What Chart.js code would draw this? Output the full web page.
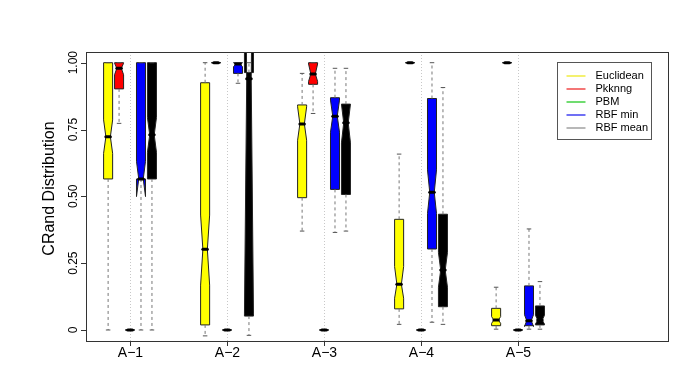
<!DOCTYPE html>
<html>
<head>
<meta charset="utf-8">
<script src="https://cdn.jsdelivr.net/npm/chart.js@4.4.1/dist/chart.umd.min.js"></script>
<style>
  html, body { margin: 0; padding: 0; background: #fff; }
</style>
</head>
<body>
<canvas id="chart" width="685" height="385"></canvas>
<script>
// groups on the x axis
const groups = ["A−1", "A−2", "A−3", "A−4", "A−5"]
const seriesNames = ["Euclidean", "Pkknng", "PBM", "RBF min", "RBF mean"]
const boxColors = ["#ffff00", "#ff0000", "#00cc00", "#0000ff", "#000000"]
const legendColors = ["#f0ec40", "#f04848", "#40d040", "#4040f0", "#a0a0a0"]

// box stats per group: [lower whisker, Q1, median, Q3, upper whisker]
const euclidean = [
  [0.000, 0.565, 0.723, 1.000, 1.000],
  [-0.022, 0.019, 0.302, 0.925, 1.000],
  [0.370, 0.495, 0.771, 0.842, 0.960],
  [0.021, 0.079, 0.171, 0.414, 0.658],
  [0.003, 0.016, 0.037, 0.081, 0.160]
]
const pkknng = [
  [0.773, 0.902, 0.979, 1.000, 1.000],
  [1.000, 1.000, 1.000, 1.000, 1.000],
  [0.810, 0.919, 0.958, 1.000, 1.000],
  [1.000, 1.000, 1.000, 1.000, 1.000],
  [1.000, 1.000, 1.000, 1.000, 1.000]
]
const pbm = [
  [0, 0, 0, 0, 0],
  [0, 0, 0, 0, 0],
  [0, 0, 0, 0, 0],
  [0, 0, 0, 0, 0],
  [0, 0, 0, 0, 0]
]
const rbfMin = [
  [0.000, 0.565, 0.565, 1.000, 1.000],
  [0.923, 0.960, 0.995, 1.000, 1.000],
  [0.365, 0.526, 0.800, 0.869, 0.979],
  [0.029, 0.303, 0.515, 0.866, 1.000],
  [0.003, 0.016, 0.035, 0.165, 0.378]
]
const rbfMean = [
  [0.000, 0.565, 0.730, 1.000, 1.000],
  [-0.020, 0.052, 0.940, 0.963, 1.000],
  [0.370, 0.507, 0.775, 0.845, 0.979],
  [0.021, 0.087, 0.224, 0.433, 0.907],
  [0.003, 0.019, 0.037, 0.090, 0.181]
]

// notch limits per group: [low, high]
const euclideanNotch = [[0.661, 0.786], [0.168, 0.430], [0.710, 0.835], [0.119, 0.237], [0.025, 0.050]]
const pkknngNotch = [[0.955, 0.998], [1, 1], [0.930, 0.995], [1, 1], [1, 1]]
const pbmNotch = [[0, 0], [0, 0], [0, 0], [0, 0], [0, 0]]
const rbfMinNotch = [[0.499, 0.631], [0.985, 1.000], [0.740, 0.860], [0.436, 0.599], [0.013, 0.057]]
const rbfMeanNotch = [[0.665, 0.795], [0.060, 1.800], [0.700, 0.845], [0.160, 0.290], [0.022, 0.055]]

const yTicks = [0, 0.25, 0.5, 0.75, 1]
const yTickLabels = ["0", "0.25", "0.50", "0.75", "1.00"]

const allStats = [euclidean, pkknng, pbm, rbfMin, rbfMean]
const allNotches = [euclideanNotch, pkknngNotch, pbmNotch, rbfMinNotch, rbfMeanNotch]
const offsets = [-0.226, -0.113, 0, 0.113, 0.226]
const boxWidth = 0.093
const FONT = "'Liberation Sans', Arial, Helvetica, sans-serif"

const boxplotPlugin = {
  id: "boxplot",
  afterDraw(chart) {
    const ctx = chart.ctx
    const area = chart.chartArea
    const xs = chart.scales.x
    const ys = chart.scales.y
    const Y = v => ys.getPixelForValue(v)

    ctx.save()

    // dotted vertical guides at group centres
    ctx.strokeStyle = "#c8c8c8"
    ctx.lineWidth = 1
    ctx.setLineDash([1, 2])
    groups.forEach((g, i) => {
      const x = Math.round(xs.getPixelForValue(i + 1)) + 0.5
      ctx.beginPath()
      ctx.moveTo(x, area.top)
      ctx.lineTo(x, area.bottom)
      ctx.stroke()
    })
    ctx.setLineDash([])

    // boxes, clipped to the plot region
    ctx.save()
    ctx.beginPath()
    ctx.rect(area.left, area.top, area.right - area.left, area.bottom - area.top)
    ctx.clip()
    allStats.forEach((stats, s) => {
      stats.forEach((st, g) => {
        const [lo, q1, med, q3, hi] = st
        const [nl, nh] = allNotches[s][g]
        const c = g + 1 + offsets[s]
        const xl = xs.getPixelForValue(c - boxWidth / 2)
        const xr = xs.getPixelForValue(c + boxWidth / 2)
        const xc = xs.getPixelForValue(c)
        const w4 = (xr - xl) / 4

        ctx.beginPath()
        ctx.moveTo(xl, Y(q1))
        ctx.lineTo(xl, Y(nl))
        ctx.lineTo(xc - w4, Y(med))
        ctx.lineTo(xl, Y(nh))
        ctx.lineTo(xl, Y(q3))
        ctx.lineTo(xr, Y(q3))
        ctx.lineTo(xr, Y(nh))
        ctx.lineTo(xc + w4, Y(med))
        ctx.lineTo(xr, Y(nl))
        ctx.lineTo(xr, Y(q1))
        ctx.closePath()
        ctx.fillStyle = boxColors[s]
        ctx.fill("evenodd")
        ctx.strokeStyle = "#222"
        ctx.lineWidth = 1
        ctx.stroke()

        // whiskers
        ctx.strokeStyle = "#777"
        ctx.setLineDash([3, 3])
        ctx.beginPath()
        ctx.moveTo(xc, Y(q1)); ctx.lineTo(xc, Y(lo))
        ctx.moveTo(xc, Y(q3)); ctx.lineTo(xc, Y(hi))
        ctx.stroke()
        ctx.setLineDash([])

        // staples
        ctx.strokeStyle = "#555"
        ctx.beginPath()
        ctx.moveTo(xc - w4, Y(lo)); ctx.lineTo(xc + w4, Y(lo))
        ctx.moveTo(xc - w4, Y(hi)); ctx.lineTo(xc + w4, Y(hi))
        ctx.stroke()

        // median
        ctx.strokeStyle = "#000"
        ctx.lineWidth = 3
        ctx.lineCap = "round"
        ctx.beginPath()
        ctx.moveTo(xc - w4, Y(med)); ctx.lineTo(xc + w4, Y(med))
        ctx.stroke()
        ctx.lineCap = "butt"
      })
    })
    ctx.restore()

    // frame
    ctx.strokeStyle = "#333"
    ctx.lineWidth = 1
    ctx.strokeRect(Math.round(area.left) + 0.5, Math.round(area.top) + 0.5,
      Math.round(area.right - area.left), Math.round(area.bottom - area.top))

    // y axis ticks and rotated labels
    ctx.fillStyle = "#000"
    ctx.font = "12px " + FONT
    yTicks.forEach((v, i) => {
      const y = Math.round(Y(v)) + 0.5
      ctx.beginPath()
      ctx.moveTo(area.left, y); ctx.lineTo(area.left - 5, y)
      ctx.stroke()
      ctx.save()
      ctx.translate(area.left - 9, Y(v))
      ctx.rotate(-Math.PI / 2)
      ctx.textAlign = "center"
      ctx.textBaseline = "alphabetic"
      ctx.fillText(yTickLabels[i], 0, 0)
      ctx.restore()
    })

    // y title
    ctx.save()
    ctx.font = "16px " + FONT
    ctx.translate(area.left - 32, (area.top + area.bottom) / 2 - 8)
    ctx.rotate(-Math.PI / 2)
    ctx.textAlign = "center"
    ctx.textBaseline = "alphabetic"
    ctx.fillText("CRand Distribution", 0, 0)
    ctx.restore()

    // x axis ticks and labels
    ctx.font = "14px " + FONT
    ctx.textAlign = "center"
    ctx.textBaseline = "top"
    groups.forEach((g, i) => {
      const x = Math.round(xs.getPixelForValue(i + 1)) + 0.5
      ctx.beginPath()
      ctx.moveTo(x, area.bottom); ctx.lineTo(x, area.bottom + 5)
      ctx.stroke()
      ctx.fillText(g, x, area.bottom + 5)
    })

    // legend
    const lx = 557.5, ly = 62.5, lw = 94, lh = 77
    ctx.fillStyle = "#fff"
    ctx.fillRect(lx, ly, lw, lh)
    ctx.strokeStyle = "#555"
    ctx.strokeRect(lx, ly, lw, lh)
    ctx.font = "11px " + FONT
    ctx.textAlign = "left"
    ctx.textBaseline = "middle"
    seriesNames.forEach((name, i) => {
      const y = Math.round(ly + 13 + i * 13)
      ctx.strokeStyle = legendColors[i]
      ctx.lineWidth = 1.5
      ctx.beginPath()
      ctx.moveTo(lx + 9, y); ctx.lineTo(lx + 28, y)
      ctx.stroke()
      ctx.fillStyle = "#000"
      ctx.fillText(name, lx + 38, y)
    })

    ctx.restore()
  }
}

new Chart(document.getElementById("chart"), {
  type: "scatter",
  data: { datasets: [{ data: [] }] },
  options: {
    responsive: false,
    animation: false,
    devicePixelRatio: 1,
    layout: { padding: { left: 86, right: 17, top: 52, bottom: 44 } },
    plugins: { legend: { display: false }, tooltip: { enabled: false } },
    scales: {
      x: { type: "linear", min: 0.546, max: 6.546, display: false },
      y: { type: "linear", min: -0.0412, max: 1.040, display: false }
    }
  },
  plugins: [boxplotPlugin]
})
</script>
</body>
</html>
